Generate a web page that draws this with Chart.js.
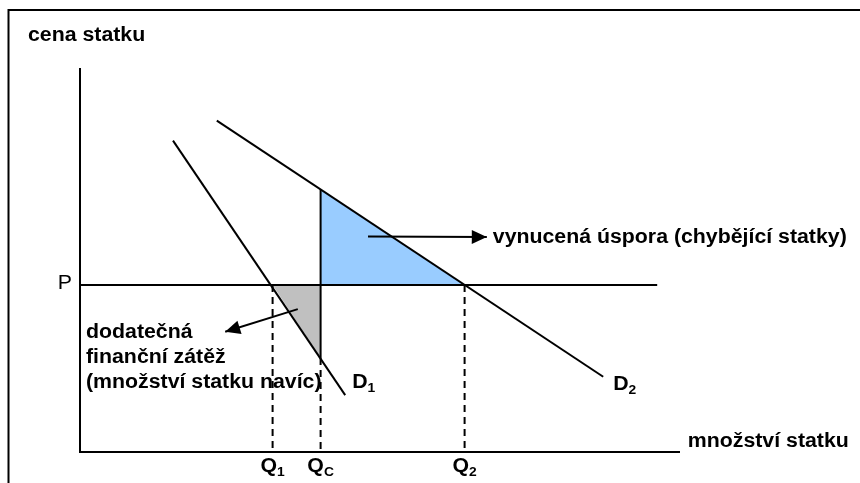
<!DOCTYPE html>
<html>
<head>
<meta charset="utf-8">
<script src="https://cdn.jsdelivr.net/npm/chart.js@4.4.1/dist/chart.umd.min.js"></script>
<style>
  body { margin: 0; background: #fff; }
</style>
</head>
<body>
<canvas id="chart" width="860" height="483"></canvas>
<script>
// both axes run 0..100 (no real units, it's a schematic)
const priceP = 43.5;
const qtyQ1 = 32.1;
const qtyQc = 40.1;
const qtyQ2 = 64.1;
const priceLineEnd = 96.2;

// demand curves, start and end point
const demandD1 = [{ x: 15.5, y: 81.1 }, { x: 44.2, y: 14.8 }];
const demandD2 = [{ x: 22.8, y: 86.3 }, { x: 87.2, y: 19.6 }];

// where the Qc line meets the two curves
const d2AtQc = 68.4;
const d1AtQc = 24.5;

// arrows from the triangles to their captions
const savingArrow = [{ x: 48, y: 56.1 }, { x: 67.8, y: 56 }];
const burdenArrow = [{ x: 36.3, y: 37.2 }, { x: 24.2, y: 31.3 }];

const yTitle = "cena statku";
const xTitle = "množství statku";
const savingText = "vynucená úspora (chybějící statky)";
const burdenText = ["dodatečná", "finanční zátěž", "(množství statku navíc)"];

const FONT = "'Liberation Sans', Arial, sans-serif";
const STRETCH = 1.065;

// helper for all text, the picture is a bit wide so stretch it a little
function txt(ctx, s, x, y, size, bold, align) {
    ctx.save();
    ctx.font = (bold ? "bold " : "") + size + "px " + FONT;
    ctx.fillStyle = "#000";
    ctx.textBaseline = "alphabetic";
    const w = ctx.measureText(s).width * STRETCH;
    let x0 = x;
    if (align === "right") x0 = x - w;
    if (align === "center") x0 = x - w / 2;
    ctx.translate(x0, y);
    ctx.scale(STRETCH, 1);
    ctx.fillText(s, 0, 0);
    ctx.restore();
    return w;
}

function withSub(ctx, main, sub, x, y, align) {
    ctx.save();
    ctx.font = "bold 20px " + FONT;
    const w1 = ctx.measureText(main).width * STRETCH;
    ctx.font = "bold 13px " + FONT;
    const w2 = ctx.measureText(sub).width * STRETCH;
    ctx.restore();
    let x0 = x;
    if (align === "center") x0 = x - (w1 + w2) / 2;
    txt(ctx, main, x0, y, 20, true);
    txt(ctx, sub, x0 + w1, y + 4, 13, true);
}

function arrowHead(ctx, from, to) {
    const a = Math.atan2(to.y - from.y, to.x - from.x);
    const len = 15, half = 7;
    ctx.save();
    ctx.fillStyle = "#000";
    ctx.beginPath();
    ctx.moveTo(to.x, to.y);
    ctx.lineTo(to.x - len * Math.cos(a) + half * Math.sin(a), to.y - len * Math.sin(a) - half * Math.cos(a));
    ctx.lineTo(to.x - len * Math.cos(a) - half * Math.sin(a), to.y - len * Math.sin(a) + half * Math.cos(a));
    ctx.closePath();
    ctx.fill();
    ctx.restore();
}

const decorations = {
    id: "decorations",
    beforeDraw(chart) {
        const ctx = chart.ctx;
        ctx.save();
        ctx.fillStyle = "#fff";
        ctx.fillRect(0, 0, chart.width, chart.height);
        // frame, right and bottom edge are outside the picture
        ctx.strokeStyle = "#000";
        ctx.lineWidth = 2;
        ctx.strokeRect(8.5, 10, 1000, 1000);
        ctx.restore();
    },
    afterDatasetsDraw(chart) {
        const ctx = chart.ctx;
        const xs = chart.scales.x, ys = chart.scales.y;
        const px = (p) => ({ x: xs.getPixelForValue(p.x), y: ys.getPixelForValue(p.y) });

        arrowHead(ctx, px(savingArrow[0]), px(savingArrow[1]));
        arrowHead(ctx, px(burdenArrow[0]), px(burdenArrow[1]));

        const left = xs.getPixelForValue(0);
        const bottom = ys.getPixelForValue(0);

        txt(ctx, yTitle, 28, 41, 20, true);
        txt(ctx, xTitle, xs.getPixelForValue(101.3), bottom - 5, 20, true);

        txt(ctx, "P", left - 8, ys.getPixelForValue(priceP) + 4, 20, false, "right");

        const s = px(savingArrow[1]);
        txt(ctx, savingText, s.x + 6, s.y + 6, 20, true);

        burdenText.forEach((line, i) => {
            txt(ctx, line, left + 6, 338 + i * 25, 20, true);
        });

        const e1 = px(demandD1[1]);
        withSub(ctx, "D", "1", e1.x + 7, e1.y - 7);
        const e2 = px(demandD2[1]);
        withSub(ctx, "D", "2", e2.x + 10, e2.y + 13);

        withSub(ctx, "Q", "1", xs.getPixelForValue(qtyQ1), bottom + 20, "center");
        withSub(ctx, "Q", "C", xs.getPixelForValue(qtyQc), bottom + 20, "center");
        withSub(ctx, "Q", "2", xs.getPixelForValue(qtyQ2), bottom + 20, "center");
    }
};

function seg(data, extra) {
    return Object.assign({
        data: data,
        showLine: true,
        borderColor: "#000",
        borderWidth: 2,
        pointRadius: 0,
        fill: false,
        clip: false
    }, extra || {});
}

new Chart(document.getElementById("chart"), {
    type: "scatter",
    plugins: [decorations],
    data: {
        datasets: [
            // axes
            seg([{ x: 0, y: 100 }, { x: 0, y: 0 }, { x: 100, y: 0 }]),
            // price line
            seg([{ x: 0, y: priceP }, { x: priceLineEnd, y: priceP }]),
            // demand curves
            seg(demandD1),
            seg(demandD2),
            // Qc solid part
            seg([{ x: qtyQc, y: d2AtQc }, { x: qtyQc, y: d1AtQc }]),
            // dashed drop lines
            seg([{ x: qtyQ1, y: priceP }, { x: qtyQ1, y: 0 }], { borderDash: [7, 5] }),
            seg([{ x: qtyQc, y: d1AtQc }, { x: qtyQc, y: 0 }], { borderDash: [7, 5] }),
            seg([{ x: qtyQ2, y: priceP }, { x: qtyQ2, y: 0 }], { borderDash: [7, 5] }),
            // arrow shafts
            seg(savingArrow),
            seg(burdenArrow),
            // shaded triangles
            seg([{ x: qtyQc, y: d2AtQc }, { x: qtyQc, y: priceP }, { x: qtyQ2, y: priceP }],
                { borderWidth: 0, fill: "shape", backgroundColor: "#99ccff" }),
            seg([{ x: qtyQ1, y: priceP }, { x: qtyQc, y: priceP }, { x: qtyQc, y: d1AtQc }],
                { borderWidth: 0, fill: "shape", backgroundColor: "#c0c0c0" })
        ]
    },
    options: {
        responsive: false,
        animation: false,
        layout: { padding: { left: 80, right: 180, top: 68, bottom: 31 } },
        scales: {
            x: { type: "linear", min: 0, max: 100, display: false },
            y: { type: "linear", min: 0, max: 100, display: false }
        },
        plugins: {
            legend: { display: false },
            tooltip: { enabled: false },
            filler: { drawTime: "beforeDatasetsDraw" }
        }
    }
});
</script>
</body>
</html>
